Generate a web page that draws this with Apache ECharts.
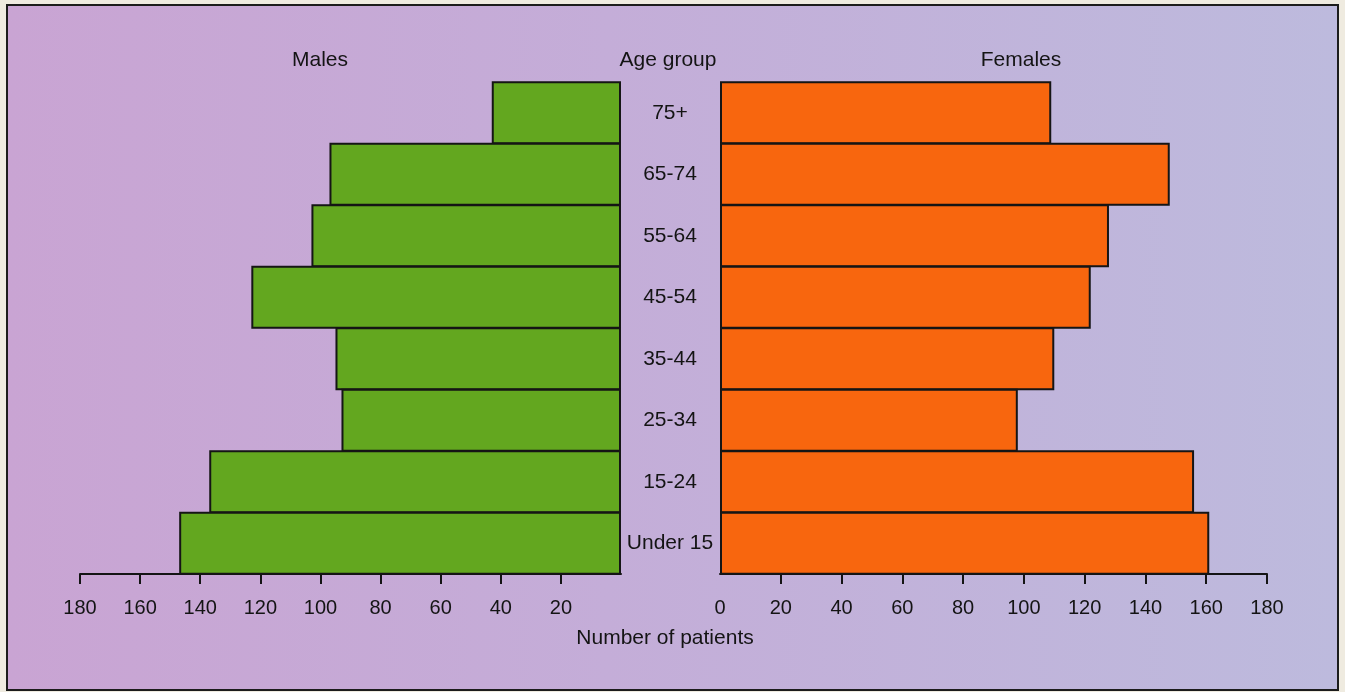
<!DOCTYPE html>
<html>
<head>
<meta charset="utf-8">
<title>Number of patients by age group</title>
<script src="https://cdn.jsdelivr.net/npm/echarts@6/dist/echarts.min.js"></script>
<style>
  html, body { margin: 0; padding: 0; background: #efebe0; }
  #wrap { position: relative; width: 1345px; height: 692px; overflow: hidden; }
  #frame {
    position: absolute; left: 6px; top: 4px; width: 1329px; height: 683px;
    border: 2px solid #1c1c1c;
    background: linear-gradient(90deg, #c9a4d3 0%, #c4add8 45%, #bdbadd 100%);
  }
  #chart { position: absolute; left: 0; top: 0; width: 1345px; height: 692px; }
</style>
</head>
<body>
<div id="wrap">
  <div id="frame"></div>
  <div id="chart"></div>
</div>
<script>
// Age groups, listed from the top row down
const categories = ['75+', '65-74', '55-64', '45-54', '35-44', '25-34', '15-24', 'Under 15'];
// Number of patients in each age group
const males = [43, 97, 103, 123, 95, 93, 137, 147];
const females = [109, 148, 128, 122, 110, 98, 156, 161];
// Tick values on the two patient-count axes
const maleTicks = [20, 40, 60, 80, 100, 120, 140, 160, 180];
const femaleTicks = [0, 20, 40, 60, 80, 100, 120, 140, 160, 180];

const FONT = '"Liberation Sans", Arial, Helvetica, sans-serif';
const INK = '#141414';

const chart = echarts.init(document.getElementById('chart'), null, { renderer: 'canvas' });

function valueAxis(gridIndex, inverse, tickVals, labelVals) {
  return {
    type: 'value',
    gridIndex: gridIndex,
    inverse: inverse,
    min: 0,
    max: 180,
    interval: 20,
    splitLine: { show: false },
    axisLine: { show: true, lineStyle: { color: INK, width: 2 } },
    axisTick: { show: true, length: 10, lineStyle: { color: INK, width: 2 }, customValues: tickVals },
    axisLabel: {
      show: true, color: INK, fontFamily: FONT, fontSize: 20, margin: 24,
      customValues: labelVals
    }
  };
}

// Bars in each column touch, sharing one dark outline
const barStyle = function (color) {
  return { color: color, borderColor: '#151515', borderWidth: 2 };
};

chart.setOption({
  animation: false,
  backgroundColor: 'transparent',
  textStyle: { fontFamily: FONT, color: INK },
  grid: [
    { left: 80, top: 82, width: 541, height: 492, containLabel: false },
    { left: 720, top: 82, width: 547, height: 492, containLabel: false }
  ],
  xAxis: [
    valueAxis(0, true, maleTicks, maleTicks),
    valueAxis(1, false, femaleTicks.slice(1), femaleTicks)
  ],
  yAxis: [
    {
      type: 'category', gridIndex: 0, data: categories, inverse: true, position: 'right',
      axisLine: { show: false }, axisTick: { show: false },
      axisLabel: { show: true, color: INK, fontFamily: FONT, fontSize: 21, align: 'center', margin: 49 }
    },
    {
      type: 'category', gridIndex: 1, data: categories, inverse: true,
      axisLine: { show: false }, axisTick: { show: false }, axisLabel: { show: false }
    }
  ],
  series: [
    {
      name: 'Males', type: 'bar', xAxisIndex: 0, yAxisIndex: 0,
      data: males, barCategoryGap: 0, barWidth: 63,
      itemStyle: barStyle('#63a71f')
    },
    {
      name: 'Females', type: 'bar', xAxisIndex: 1, yAxisIndex: 1,
      data: females, barCategoryGap: 0, barWidth: 63,
      itemStyle: barStyle('#f8660e')
    }
  ],
  graphic: [
    { type: 'text', x: 320, y: 60, style: { text: 'Males', font: '21px ' + FONT, fill: INK, align: 'center', verticalAlign: 'middle' } },
    { type: 'text', x: 668, y: 60, style: { text: 'Age group', font: '21px ' + FONT, fill: INK, align: 'center', verticalAlign: 'middle' } },
    { type: 'text', x: 1021, y: 60, style: { text: 'Females', font: '21px ' + FONT, fill: INK, align: 'center', verticalAlign: 'middle' } },
    { type: 'text', x: 665, y: 638, style: { text: 'Number of patients', font: '21px ' + FONT, fill: INK, align: 'center', verticalAlign: 'middle' } }
  ]
});
</script>
</body>
</html>
